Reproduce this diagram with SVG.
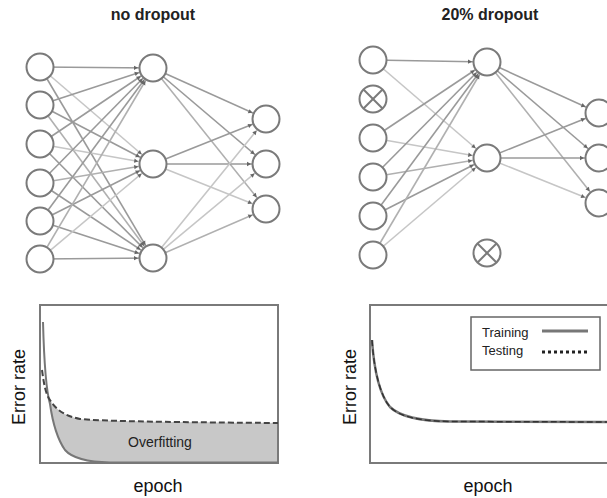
<svg xmlns="http://www.w3.org/2000/svg" width="607" height="498" viewBox="0 0 607 498">
<style>
.node{fill:#fff;stroke:#7a7a7a;stroke-width:2}
.x{stroke:#7a7a7a;stroke-width:2}
.e{fill:none;stroke-width:1.6;marker-end:url(#ah)}
.e1{stroke:#9a9a9a}.e2{stroke:#b0b0b0}.e3{stroke:#c6c6c6}
.t{font-family:"Liberation Sans",Arial,sans-serif;fill:#222}
.title{font-size:16px;font-weight:bold;text-anchor:middle}
.ax{font-size:18px;text-anchor:middle;fill:#111}
.box{fill:none;stroke:#7a7a7a;stroke-width:2}
</style>
<defs>
<marker id="ah" markerUnits="userSpaceOnUse" orient="auto" refX="0" refY="0" markerWidth="1" markerHeight="1" overflow="visible">
<path d="M-19,-2.2 L-15,0 L-19,2.2 z" fill="#666"/>
</marker>
</defs>
<rect width="607" height="498" fill="#fff"/>
<text class="t title" x="153" y="20">no dropout</text>
<text class="t title" x="490" y="20">20% dropout</text>

<g id="connectors">
<g>
<line class="e e1" x1="40" y1="67" x2="153" y2="68"/>
<line class="e e3" x1="40" y1="67" x2="153" y2="164"/>
<line class="e e1" x1="40" y1="67" x2="153" y2="258"/>
<line class="e e1" x1="40" y1="105" x2="153" y2="68"/>
<line class="e e1" x1="40" y1="105" x2="153" y2="164"/>
<line class="e e2" x1="40" y1="105" x2="153" y2="258"/>
<line class="e e1" x1="40" y1="144" x2="153" y2="68"/>
<line class="e e3" x1="40" y1="144" x2="153" y2="164"/>
<line class="e e1" x1="40" y1="144" x2="153" y2="258"/>
<line class="e e1" x1="40" y1="183" x2="153" y2="68"/>
<line class="e e2" x1="40" y1="183" x2="153" y2="164"/>
<line class="e e1" x1="40" y1="183" x2="153" y2="258"/>
<line class="e e1" x1="40" y1="221" x2="153" y2="68"/>
<line class="e e1" x1="40" y1="221" x2="153" y2="164"/>
<line class="e e1" x1="40" y1="221" x2="153" y2="258"/>
<line class="e e2" x1="40" y1="259" x2="153" y2="68"/>
<line class="e e3" x1="40" y1="259" x2="153" y2="164"/>
<line class="e e1" x1="40" y1="259" x2="153" y2="258"/>
</g>
<g>
<line class="e e1" x1="153" y1="68" x2="266" y2="119"/>
<line class="e e1" x1="153" y1="68" x2="266" y2="164"/>
<line class="e e2" x1="153" y1="68" x2="266" y2="209"/>
<line class="e e1" x1="153" y1="164" x2="266" y2="119"/>
<line class="e e1" x1="153" y1="164" x2="266" y2="164"/>
<line class="e e3" x1="153" y1="164" x2="266" y2="209"/>
<line class="e e3" x1="153" y1="258" x2="266" y2="119"/>
<line class="e e3" x1="153" y1="258" x2="266" y2="164"/>
<line class="e e2" x1="153" y1="258" x2="266" y2="209"/>
</g>
<g>
<line class="e e1" x1="373" y1="60" x2="487" y2="62"/>
<line class="e e3" x1="373" y1="60" x2="487" y2="158"/>
<line class="e e1" x1="373" y1="138" x2="487" y2="62"/>
<line class="e e3" x1="373" y1="138" x2="487" y2="158"/>
<line class="e e1" x1="373" y1="177" x2="487" y2="62"/>
<line class="e e2" x1="373" y1="177" x2="487" y2="158"/>
<line class="e e1" x1="373" y1="216" x2="487" y2="62"/>
<line class="e e1" x1="373" y1="216" x2="487" y2="158"/>
<line class="e e2" x1="373" y1="255" x2="487" y2="62"/>
<line class="e e3" x1="373" y1="255" x2="487" y2="158"/>
</g>
<g>
<line class="e e1" x1="487" y1="62" x2="599" y2="113"/>
<line class="e e1" x1="487" y1="62" x2="599" y2="158"/>
<line class="e e2" x1="487" y1="62" x2="599" y2="203"/>
<line class="e e1" x1="487" y1="158" x2="599" y2="113"/>
<line class="e e1" x1="487" y1="158" x2="599" y2="158"/>
<line class="e e3" x1="487" y1="158" x2="599" y2="203"/>
</g>
</g>

<g id="left-input-1"><circle class="node" cx="40" cy="67" r="13.5"/></g>
<g id="left-input-2"><circle class="node" cx="40" cy="105" r="13.5"/></g>
<g id="left-input-3"><circle class="node" cx="40" cy="144" r="13.5"/></g>
<g id="left-input-4"><circle class="node" cx="40" cy="183" r="13.5"/></g>
<g id="left-input-5"><circle class="node" cx="40" cy="221" r="13.5"/></g>
<g id="left-input-6"><circle class="node" cx="40" cy="259" r="13.5"/></g>
<g id="left-hidden-1"><circle class="node" cx="153" cy="68" r="13.5"/></g>
<g id="left-hidden-2"><circle class="node" cx="153" cy="164" r="13.5"/></g>
<g id="left-hidden-3"><circle class="node" cx="153" cy="258" r="13.5"/></g>
<g id="left-output-1"><circle class="node" cx="266" cy="119" r="13.5"/></g>
<g id="left-output-2"><circle class="node" cx="266" cy="164" r="13.5"/></g>
<g id="left-output-3"><circle class="node" cx="266" cy="209" r="13.5"/></g>

<g id="right-input-1"><circle class="node" cx="373" cy="60" r="13.5"/></g>
<g id="right-input-2-dropped"><circle class="node" cx="373" cy="99" r="13.5"/><line class="x" x1="363.5" y1="89.5" x2="382.5" y2="108.5"/><line class="x" x1="382.5" y1="89.5" x2="363.5" y2="108.5"/></g>
<g id="right-input-3"><circle class="node" cx="373" cy="138" r="13.5"/></g>
<g id="right-input-4"><circle class="node" cx="373" cy="177" r="13.5"/></g>
<g id="right-input-5"><circle class="node" cx="373" cy="216" r="13.5"/></g>
<g id="right-input-6"><circle class="node" cx="373" cy="255" r="13.5"/></g>
<g id="right-hidden-1"><circle class="node" cx="487" cy="62" r="13.5"/></g>
<g id="right-hidden-2"><circle class="node" cx="487" cy="158" r="13.5"/></g>
<g id="right-hidden-3-dropped"><circle class="node" cx="487" cy="253" r="13.5"/><line class="x" x1="477.5" y1="243.5" x2="496.5" y2="262.5"/><line class="x" x1="496.5" y1="243.5" x2="477.5" y2="262.5"/></g>
<g id="right-output-1"><circle class="node" cx="599" cy="113" r="13.5"/></g>
<g id="right-output-2"><circle class="node" cx="599" cy="158" r="13.5"/></g>
<g id="right-output-3"><circle class="node" cx="599" cy="203" r="13.5"/></g>

<g id="left-chart">
<path d="M50,400 C56,410 65,416 80,419 C100,421 150,422 278,423 L278,462.5 L110,462.5 C85,462 72,458 65,450 C58,440 53,425 50,404 Z" fill="#c8c8c8"/>
<rect class="box" x="40" y="305" width="238" height="158"/>
<path d="M43,322 C44,360 46,390 50,404 C53,425 58,440 65,450 C72,458 85,462 110,462.5 L278,462.5" fill="none" stroke="#777" stroke-width="2"/>
<path d="M42,370 C44,385 46,395 50,400 C56,410 65,416 80,419 C100,421 150,422 278,423" fill="none" stroke="#444" stroke-width="2" stroke-dasharray="6,3"/>
<text class="t" x="160" y="447" font-size="14" text-anchor="middle" fill="#333">Overfitting</text>
<text class="t ax" transform="translate(25,387) rotate(-90)">Error rate</text>
<text class="t ax" x="158" y="492">epoch</text>
</g>

<g id="right-chart">
<rect class="box" x="370" y="305" width="250" height="158"/>
<path d="M372,340 C374,370 380,395 390,407 C400,417 420,421 450,421.5 L607,422" fill="none" stroke="#777" stroke-width="2.5"/>
<path d="M372,340 C374,370 380,395 390,407 C400,417 420,421 450,421.5 L607,422" fill="none" stroke="#333" stroke-width="1.5" stroke-dasharray="6,3"/>
<text class="t ax" transform="translate(356,387) rotate(-90)">Error rate</text>
<text class="t ax" x="488" y="492">epoch</text>
</g>

<g id="legend">
<rect x="471" y="317" width="129" height="53" fill="#fff" stroke="#666" stroke-width="1.5"/>
<text class="t" x="482" y="337" font-size="13" fill="#333">Training</text>
<text class="t" x="482" y="355" font-size="13" fill="#333">Testing</text>
<line x1="542" y1="331" x2="588" y2="331" stroke="#777" stroke-width="3"/>
<line x1="542" y1="352" x2="588" y2="352" stroke="#222" stroke-width="3" stroke-dasharray="3,3"/>
</g>
</svg>
